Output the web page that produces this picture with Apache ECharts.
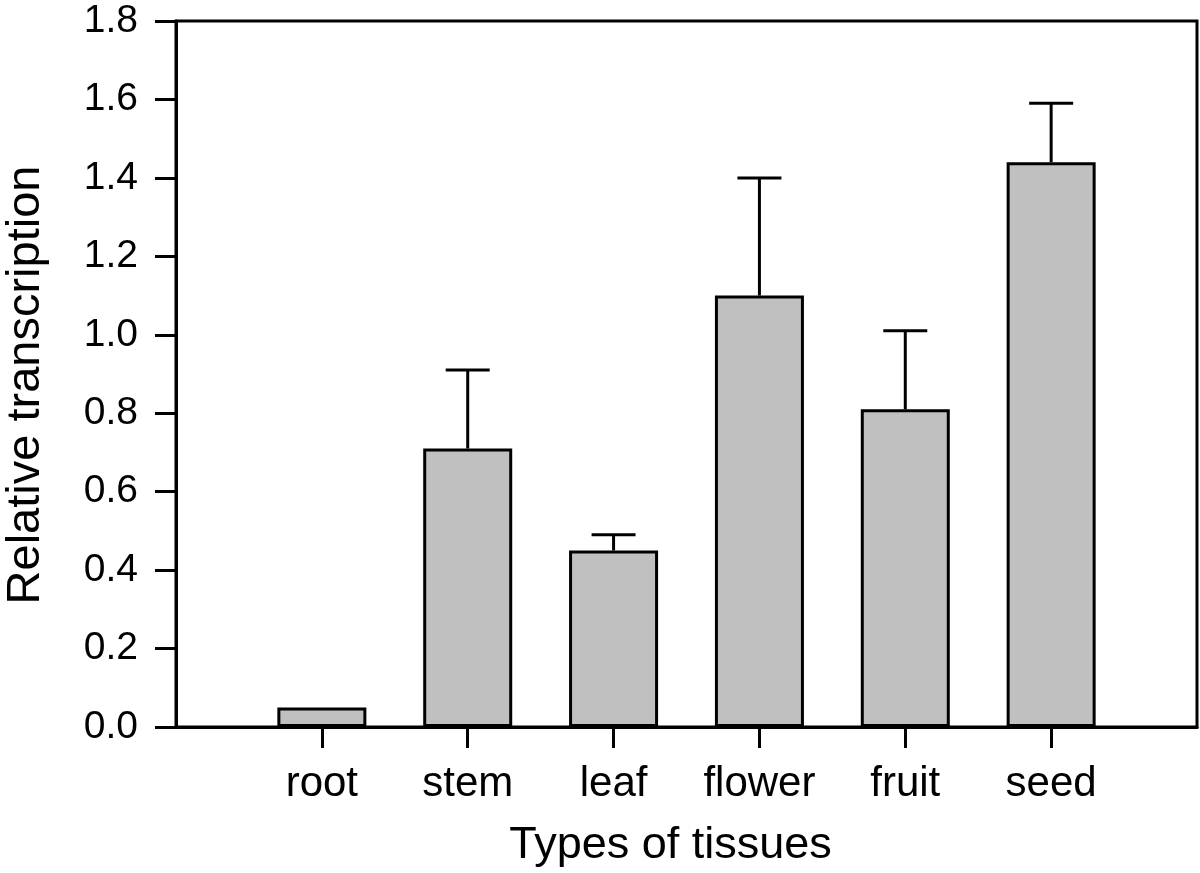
<!DOCTYPE html>
<html>
<head>
<meta charset="utf-8">
<script src="https://cdn.jsdelivr.net/npm/echarts@6/dist/echarts.min.js"></script>
<style>
  html, body { margin: 0; padding: 0; background: #fff; }
  #main { width: 1200px; height: 873px; }
</style>
</head>
<body>
<div id="main"></div>
<script>
// data
const tissues = ['root', 'stem', 'leaf', 'flower', 'fruit', 'seed'];
const meanValues = [0.05, 0.71, 0.45, 1.10, 0.81, 1.44];
const errorValues = [0, 0.20, 0.04, 0.30, 0.20, 0.15];

// one empty slot on each side so the bars sit at 1..6 of 0..7
const categories = [''].concat(tissues, ['']);
const barData = ['-'].concat(meanValues, ['-']);
const errData = [];
for (let i = 0; i < tissues.length; i++) {
  if (errorValues[i] > 0) {
    errData.push([i + 1, meanValues[i], meanValues[i] + errorValues[i]]);
  }
}

const font = "'Liberation Sans', Arial, sans-serif";

const chart = echarts.init(document.getElementById('main'));

chart.setOption({
  animation: false,
  grid: {
    left: 176,
    top: 21,
    right: 3,
    bottom: 146,
    outerBoundsMode: 'none',
    show: true,
    borderColor: '#000',
    borderWidth: 3
  },
  xAxis: {
    type: 'category',
    boundaryGap: false,
    data: categories,
    name: 'Types of tissues',
    nameLocation: 'middle',
    nameGap: 96,
    nameTextStyle: { fontFamily: font, fontSize: 45, color: '#000', padding: [0, 32, 0, 0] },
    axisLine: { lineStyle: { color: '#000', width: 3 } },
    axisTick: {
      length: 21,
      interval: function (i) { return i > 0 && i < categories.length - 1; },
      lineStyle: { color: '#000', width: 3 }
    },
    axisLabel: {
      interval: 0,
      margin: 36,
      fontFamily: font,
      fontSize: 42,
      color: '#000'
    },
    splitLine: { show: false }
  },
  yAxis: {
    type: 'value',
    min: 0,
    max: 1.8,
    interval: 0.2,
    name: 'Relative transcription',
    nameLocation: 'middle',
    nameGap: 126,
    nameTextStyle: { fontFamily: font, fontSize: 47, color: '#000', padding: [0, 22, 0, 0] },
    axisLine: { show: true, lineStyle: { color: '#000', width: 3 } },
    axisTick: { show: true, length: 21, lineStyle: { color: '#000', width: 3 } },
    axisLabel: {
      margin: 38,
      fontFamily: font,
      fontSize: 39,
      color: '#000',
      formatter: function (v) { return v.toFixed(1); }
    },
    splitLine: { show: false }
  },
  series: [
    {
      type: 'bar',
      data: barData,
      barWidth: 89,
      itemStyle: { color: '#c0c0c0', borderColor: '#000', borderWidth: 3 }
    },
    {
      type: 'custom',
      data: errData,
      z: 5,
      renderItem: function (params, api) {
        const top = api.coord([api.value(0), api.value(1)]);
        const up = api.coord([api.value(0), api.value(2)]);
        const style = { stroke: '#000', lineWidth: 3, fill: null };
        return {
          type: 'group',
          children: [
            { type: 'line', shape: { x1: top[0], y1: top[1], x2: up[0], y2: up[1] }, style: style },
            { type: 'line', shape: { x1: up[0] - 22, y1: up[1], x2: up[0] + 22, y2: up[1] }, style: style }
          ]
        };
      }
    }
  ]
});
</script>
</body>
</html>
